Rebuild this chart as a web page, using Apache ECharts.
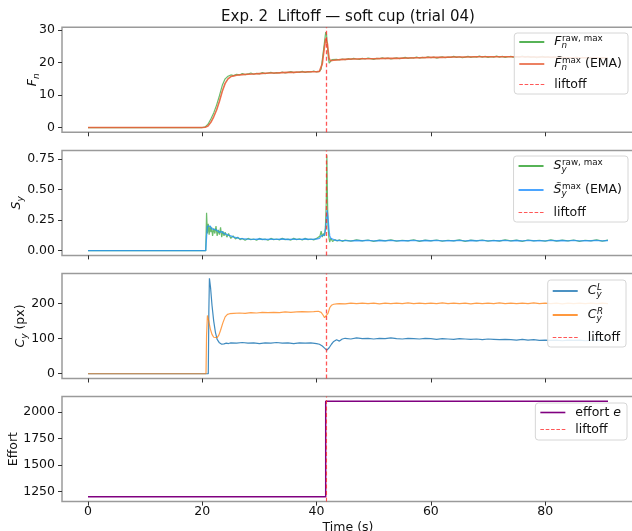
<!DOCTYPE html>
<html>
<head>
<meta charset="utf-8">
<script src="https://cdn.jsdelivr.net/npm/echarts@6/dist/echarts.min.js"></script>
<style>
  html, body { margin: 0; padding: 0; background: #fff; }
  #chart { width: 632px; height: 531px; }
</style>
</head>
<body>
<div id="chart"></div>
<script>
// tick positions
const xTicks = [0, 20, 40, 60, 80];
const fnTicks = [0, 10, 20, 30];
const syTicks = [0, 0.25, 0.5, 0.75];
const cyTicks = [0, 100, 200];
const effortTicks = [1250, 1500, 1750, 2000];

const liftoffT = 41.7;

// [time (s), value]
const fnRaw = [[0,0],[20,0],[20.5,0.2],[21,1.0],[21.5,2.6],[22,4.5],[22.5,6.9],[23,9.8],[23.5,13.0],[24,15.0],[24.5,15.8],[25,16.2],[25.5,16.0],[26,16.4],[26.5,16.2],[27,16.6],[27.5,16.3],[28,16.5],[28.5,16.8],[29,16.4],[29.5,16.7],[30,16.5],[30.5,16.9],[31,16.6],[31.5,16.8],[32,17.0],[32.5,16.7],[33,16.9],[33.5,16.8],[34,17.1],[34.5,16.8],[35,17.0],[35.5,17.2],[36,16.9],[36.5,17.1],[37,17.0],[37.5,17.3],[38,17.0],[38.5,17.2],[39,17.1],[39.5,17.4],[40,17.1],[40.5,17.3],[40.8,18.0],[41.0,20.8],[41.2,23.6],[41.4,26.5],[41.6,29.4],[41.75,28.6],[41.9,25.0],[42.05,21.8],[42.2,19.8],[42.4,20.4],[42.7,20.9],[43,20.6],[43.5,21.0],[44,20.8],[44.5,21.1],[45,20.9],[45.5,21.2],[46,21.0],[46.5,21.3],[47,21.1],[47.5,21.0],[48,21.3],[48.5,21.1],[49,21.4],[49.5,21.2],[50,21.0],[50.5,21.3],[51,21.2],[51.5,21.5],[52,21.2],[52.5,21.4],[53,21.1],[53.5,21.3],[54,21.5],[54.5,21.2],[55,21.4],[55.5,21.6],[56,21.3],[56.5,21.5],[57,21.4],[57.5,21.7],[58,21.4],[58.5,21.6],[59,21.5],[59.5,21.8],[60,21.5],[60.5,21.7],[61,21.4],[61.5,21.6],[62,21.8],[62.5,21.5],[63,21.7],[63.5,21.6],[64,21.9],[64.5,21.6],[65,21.8],[65.5,21.5],[66,21.7],[66.5,21.9],[67,21.6],[67.5,21.8],[68,21.7],[68.5,22.0],[69,21.7],[69.5,21.9],[70,21.6],[70.5,21.8],[71,21.7],[71.5,22.0],[72,21.7],[72.5,21.9],[73,21.6],[73.5,21.8],[74,21.9],[74.5,21.6],[75,21.8],[75.5,21.7],[76,22.0],[76.5,21.7],[77,21.9],[77.5,21.6],[78,21.8],[78.5,21.5],[79,21.7],[79.5,21.9],[80,21.6],[80.5,21.8],[81,21.5],[81.5,21.7],[82,21.6],[82.5,21.4],[83,21.7],[83.5,21.5],[84,21.6],[84.5,21.3],[85,21.5],[85.5,21.7],[86,21.4],[86.5,21.6],[87,21.5],[87.5,21.3],[88,21.6],[88.5,21.4],[89,21.5],[89.5,21.3],[90,21.5],[90.5,21.4],[91,21.5]];

const fnEma = [[0,0],[20,0],[20.5,0.1],[21,0.5],[21.5,1.6],[22,3.3],[22.5,5.4],[23,8.1],[23.5,11.2],[24,13.6],[24.5,15.0],[25,15.7],[25.5,15.9],[26,16.1],[27,16.3],[28,16.4],[29,16.5],[30,16.6],[31,16.7],[32,16.8],[33,16.8],[34,16.9],[35,17.0],[36,17.0],[37,17.1],[38,17.1],[39,17.2],[40,17.2],[40.5,17.3],[40.8,17.7],[41.0,19.6],[41.2,22.4],[41.4,25.0],[41.6,27.4],[41.75,27.6],[41.9,25.8],[42.05,23.3],[42.2,21.3],[42.4,20.6],[42.7,20.7],[43,20.7],[44,20.9],[45,21.0],[46,21.1],[47,21.1],[48,21.2],[50,21.2],[52,21.3],[54,21.3],[56,21.4],[58,21.5],[60,21.6],[62,21.6],[64,21.7],[66,21.7],[68,21.8],[70,21.8],[72,21.8],[74,21.8],[76,21.8],[78,21.7],[80,21.7],[82,21.6],[84,21.5],[86,21.5],[88,21.5],[90,21.4],[91,21.4]];

const syRaw = [[0,0],[20.6,0],[20.75,0.31],[20.9,0.14],[21.05,0.22],[21.2,0.13],[21.35,0.2],[21.5,0.15],[21.65,0.19],[21.8,0.12],[22.0,0.18],[22.2,0.14],[22.4,0.2],[22.6,0.12],[22.8,0.17],[23.0,0.13],[23.2,0.19],[23.4,0.11],[23.6,0.16],[23.8,0.12],[24.0,0.15],[24.3,0.11],[24.6,0.14],[25.0,0.1],[25.4,0.12],[25.8,0.095],[26.2,0.11],[26.6,0.09],[27,0.1],[27.5,0.085],[28,0.1],[28.5,0.09],[29,0.095],[29.5,0.085],[30,0.1],[30.5,0.09],[31,0.095],[31.5,0.085],[32,0.1],[32.5,0.09],[33,0.095],[33.5,0.088],[34,0.1],[34.5,0.09],[35,0.094],[35.5,0.086],[36,0.1],[36.5,0.09],[37,0.096],[37.5,0.087],[38,0.1],[38.5,0.09],[39,0.095],[39.5,0.088],[40,0.1],[40.3,0.095],[40.6,0.12],[40.8,0.16],[41.0,0.11],[41.2,0.14],[41.4,0.12],[41.55,0.2],[41.7,0.4],[41.8,0.78],[41.9,0.45],[42.0,0.2],[42.15,0.11],[42.3,0.07],[42.5,0.1],[42.8,0.075],[43.2,0.09],[43.6,0.078],[44,0.088],[44.5,0.076],[45,0.086],[46,0.077],[47,0.088],[48,0.079],[49,0.087],[50,0.076],[51,0.086],[52,0.08],[53,0.088],[54,0.077],[55,0.085],[56,0.079],[57,0.089],[58,0.076],[59,0.086],[60,0.08],[61,0.087],[62,0.077],[63,0.085],[64,0.079],[65,0.088],[66,0.076],[67,0.086],[68,0.08],[69,0.087],[70,0.078],[71,0.085],[72,0.077],[73,0.088],[74,0.079],[75,0.086],[76,0.076],[77,0.087],[78,0.08],[79,0.085],[80,0.078],[81,0.088],[82,0.077],[83,0.086],[84,0.079],[85,0.087],[86,0.076],[87,0.085],[88,0.08],[89,0.088],[90,0.078],[91,0.086]];

const syEma = [[0,0],[20.6,0],[20.75,0.12],[20.9,0.2],[21.05,0.21],[21.2,0.19],[21.4,0.2],[21.6,0.18],[21.8,0.17],[22.0,0.175],[22.3,0.16],[22.6,0.165],[23.0,0.15],[23.4,0.155],[23.8,0.14],[24.2,0.135],[24.6,0.125],[25,0.12],[25.5,0.11],[26,0.105],[26.5,0.1],[27,0.097],[28,0.094],[29,0.092],[30,0.095],[31,0.091],[32,0.094],[33,0.092],[34,0.095],[35,0.091],[36,0.094],[37,0.092],[38,0.095],[39,0.092],[40,0.095],[40.5,0.1],[40.8,0.12],[41.1,0.125],[41.4,0.13],[41.6,0.18],[41.75,0.26],[41.85,0.33],[42.0,0.27],[42.15,0.18],[42.3,0.12],[42.5,0.1],[42.8,0.09],[43.2,0.085],[44,0.083],[45,0.082],[46,0.08],[47,0.083],[48,0.081],[49,0.084],[50,0.08],[51,0.083],[52,0.081],[53,0.084],[54,0.08],[55,0.082],[56,0.081],[57,0.084],[58,0.08],[59,0.083],[60,0.081],[61,0.084],[62,0.08],[63,0.082],[64,0.081],[65,0.084],[66,0.08],[67,0.083],[68,0.081],[69,0.084],[70,0.08],[71,0.082],[72,0.081],[73,0.084],[74,0.08],[75,0.083],[76,0.08],[77,0.084],[78,0.081],[79,0.082],[80,0.08],[81,0.084],[82,0.081],[83,0.083],[84,0.08],[85,0.084],[86,0.08],[87,0.082],[88,0.081],[89,0.084],[90,0.08],[91,0.083]];

const cyL = [[0,0],[21.05,0],[21.15,180],[21.25,272],[21.45,245],[21.7,195],[22.0,150],[22.3,118],[22.6,98],[23.0,88],[23.4,84],[23.8,85],[24.2,87],[24.6,86],[25,88],[26,87],[27,89],[28,87],[29,88],[30,86],[31,88],[32,87],[33,89],[34,87],[35,88],[36,86],[37,88],[38,87],[39,88],[40,86],[40.5,84],[41,79],[41.4,73],[41.8,67],[42.2,74],[42.6,84],[43.0,92],[43.5,97],[44.0,93],[44.5,99],[45,101],[46,99],[47,102],[48,100],[49,101],[50,99],[51,101],[52,100],[53,102],[54,100],[55,99],[56,101],[57,100],[58,99],[59,101],[60,100],[61,98],[62,100],[63,99],[64,98],[65,100],[66,99],[67,98],[68,99],[69,97],[70,99],[71,98],[72,97],[73,98],[74,97],[75,96],[76,98],[77,96],[78,97],[79,95],[80,96],[81,95],[82,96],[83,94],[84,96],[85,95],[86,96],[87,94],[88,95],[89,96],[90,95],[91,95]];

const cyR = [[0,0],[20.65,0],[20.75,110],[20.9,166],[21.1,152],[21.4,128],[21.7,112],[22.0,104],[22.3,101],[22.6,103],[22.9,110],[23.2,124],[23.6,145],[24.0,162],[24.4,169],[24.8,171],[25.5,172],[26.5,173],[27.5,172],[28.5,174],[29.5,173],[30.5,175],[31.5,174],[32.5,175],[33.5,174],[34.5,176],[35.5,175],[36.5,176],[37.5,177],[38.5,176],[39.5,177],[40.3,178],[40.8,175],[41.1,168],[41.4,160],[41.7,156],[42.0,172],[42.3,188],[42.6,195],[43.0,198],[43.5,199],[44,200],[45,199],[46,201],[47,200],[48,201],[49,200],[50,201],[51,199],[52,201],[53,200],[54,201],[55,200],[56,202],[57,200],[58,201],[59,200],[60,201],[61,200],[62,202],[63,200],[64,201],[65,200],[66,201],[67,199],[68,201],[69,200],[70,201],[71,200],[72,202],[73,200],[74,201],[75,200],[76,201],[77,200],[78,202],[79,200],[80,201],[81,200],[82,201],[83,199],[84,201],[85,200],[86,201],[87,200],[88,201],[89,200],[90,201],[91,200]];

const effort = [[0,1200],[41.6,1200],[41.6,2100],[91,2100]];

const FONT = 'DejaVu Sans';
const chart = echarts.init(document.getElementById('chart'), null, { renderer: 'canvas' });

const panelTops = [27.3, 150.4, 273.5, 396.6];
const panelH = 105;
const yRanges = [[-1.47, 30.87], [-0.039, 0.819], [-13.6, 285.6], [1155, 2145]];
const yTickSets = [fnTicks, syTicks, cyTicks, effortTicks];
const yNames = ['{i|F}{s|n}', '{i|S}{s|y}', '{i|C}{s|y}{t| (px)}', '{t|Effort}'];
const yNameGaps = [21, 37, 33, 40];

// legend line samples: solid bar and dashed bar
const SOLID_ICON = 'rect';
const DASH_ICON = 'path://M0,0h3.6v1h-3.6zM5.35,0h3.6v1h-3.6zM10.7,0h3.6v1h-3.6zM16.05,0h3.6v1h-3.6zM21.4,0h3.6v1h-3.6z';

const nameRich = {
    i: { fontFamily: FONT, fontStyle: 'italic', fontSize: 12.5, lineHeight: 16, color: '#111' },
    s: { fontFamily: FONT, fontStyle: 'italic', fontSize: 9, lineHeight: 9, verticalAlign: 'bottom', color: '#111' },
    t: { fontFamily: FONT, fontSize: 12.5, lineHeight: 16, color: '#111' }
};

// sup sits ~2.5px above the main glyph centre, sub ~5px below it; sub has ~no width so sup stacks over it
const legendRich = {
    g: { width: 5, fontSize: 12.5, lineHeight: 16 },
    it: { fontFamily: FONT, fontStyle: 'italic', fontSize: 12.5, lineHeight: 16, color: '#111' },
    t: { fontFamily: FONT, fontSize: 12.5, lineHeight: 16, color: '#111' },
    sup: { fontFamily: FONT, fontSize: 8.75, lineHeight: 11, verticalAlign: 'top', color: '#111' },
    supi: { fontFamily: FONT, fontStyle: 'italic', fontSize: 8.75, lineHeight: 11, verticalAlign: 'top', color: '#111' },
    sub: { fontFamily: FONT, fontStyle: 'italic', fontSize: 8.75, lineHeight: 5.6, verticalAlign: 'bottom', width: 0.5, color: '#111' }
};

const legendLabels = {
    fnRaw: '{g| }{it|F}{sub|n}{sup|raw, max}',
    fnEma: '{g| }{it|F\u0303}{sub|n}{sup|max}{t| (EMA)}',
    syRaw: '{g| }{it|S}{sub|y}{sup|raw, max}',
    syEma: '{g| }{it|S\u0303}{sub|y}{sup|max}{t| (EMA)}',
    cyL: '{g| }{it|C}{sub|y}{supi|L}',
    cyR: '{g| }{it|C}{sub|y}{supi|R}',
    effort: '{g| }{t|effort }{it|e}',
    lift1: '{g| }{t|liftoff}', lift2: '{g| }{t|liftoff}', lift3: '{g| }{t|liftoff}', lift4: '{g| }{t|liftoff}'
};

const grids = panelTops.map(top => ({
    left: 62, width: 572, top: top, height: panelH, outerBoundsMode: 'none',
    show: true, borderColor: '#9a9a9a', borderWidth: 1.5, backgroundColor: 'transparent'
}));

const xAxes = panelTops.map((_, i) => ({
    type: 'value', gridIndex: i, min: -4.55, max: 95.55,
    axisLine: { show: false, onZero: false },
    axisTick: { show: true, customValues: xTicks, length: 4, lineStyle: { color: '#333' } },
    axisLabel: { show: i === 3, customValues: xTicks, fontSize: 12.5, fontFamily: FONT, color: '#111', margin: 4 },
    splitLine: { show: false },
    name: i === 3 ? 'Time (s)' : '',
    nameLocation: 'middle', nameGap: 20, nameMoveOverlap: false,
    nameTextStyle: { fontSize: 12.5, fontFamily: FONT, color: '#111' }
}));

const yAxes = panelTops.map((_, i) => ({
    type: 'value', gridIndex: i, min: yRanges[i][0], max: yRanges[i][1],
    axisLine: { show: false, onZero: false },
    axisTick: { show: true, customValues: yTickSets[i], length: 4, lineStyle: { color: '#333' } },
    axisLabel: {
        customValues: yTickSets[i], fontSize: 12.5, fontFamily: FONT, color: '#111', margin: 7,
        formatter: v => i === 1 ? v.toFixed(2) : String(v)
    },
    splitLine: { show: false },
    name: yNames[i], nameLocation: 'middle', nameRotate: 90, nameGap: yNameGaps[i], nameMoveOverlap: false,
    nameTextStyle: { rich: nameRich }
}));

const LIFT_COLOR = 'rgba(255,45,45,0.8)';

function liftSeries(name, idx, width) {
    return {
        name: name, type: 'line', xAxisIndex: idx, yAxisIndex: idx, data: [],
        symbol: 'none', color: LIFT_COLOR,
        lineStyle: { type: [4, 2.5], width: width, color: LIFT_COLOR },
        markLine: {
            silent: true, symbol: ['none', 'none'], label: { show: false },
            lineStyle: { type: [4, 2.5], width: width, color: LIFT_COLOR },
            data: [{ xAxis: liftoffT }]
        },
        z: 5
    };
}

function lineSeries(name, idx, data, color, width, opacity) {
    return {
        name: name, type: 'line', xAxisIndex: idx, yAxisIndex: idx, data: data,
        symbol: 'none', showSymbol: false, color: color,
        lineStyle: { width: width, color: color, opacity: opacity }
    };
}

const series = [
    lineSeries('fnRaw', 0, fnRaw, '#2ca02c', 1.2, 0.7),
    lineSeries('fnEma', 0, fnEma, '#e8613a', 1.6, 0.9),
    liftSeries('lift1', 0, 1.3),
    lineSeries('syRaw', 1, syRaw, '#2ca02c', 1.2, 0.7),
    lineSeries('syEma', 1, syEma, '#1e8fff', 1.4, 0.75),
    liftSeries('lift2', 1, 1.3),
    lineSeries('cyL', 2, cyL, '#1f77b4', 1.2, 0.85),
    lineSeries('cyR', 2, cyR, '#ff7f0e', 1.2, 0.75),
    liftSeries('lift3', 2, 1.3),
    lineSeries('effort', 3, effort, '#800080', 1.5, 1),
    liftSeries('lift4', 3, 1.1)
];

const legendBase = {
    orient: 'vertical', right: 4, itemWidth: 25, itemHeight: 1.6, itemGap: 6,
    backgroundColor: 'rgba(255,255,255,0.85)', borderColor: '#d6d6d6', borderWidth: 1,
    borderRadius: 3, padding: [1, 6, 3, 5],
    formatter: name => legendLabels[name],
    textStyle: { fontFamily: FONT, fontSize: 12.5, color: '#111', rich: legendRich }
};

function legendData(names) {
    return names.map(n => ({ name: n, icon: n.indexOf('lift') === 0 ? DASH_ICON : SOLID_ICON }));
}

const legends = [
    Object.assign({}, legendBase, { top: 33, data: legendData(['fnRaw', 'fnEma', 'lift1']) }),
    Object.assign({}, legendBase, { top: 156, itemGap: 8, padding: [2, 6, 3, 5], data: legendData(['syRaw', 'syEma', 'lift2']) }),
    Object.assign({}, legendBase, { top: 280, right: 6, itemGap: 8, padding: [3, 6, 3, 5], data: legendData(['cyL', 'cyR', 'lift3']) }),
    Object.assign({}, legendBase, { top: 403, right: 5, itemGap: 4, padding: [3, 6, 4, 5], data: legendData(['effort', 'lift4']) })
];

chart.setOption({
    animation: false,
    backgroundColor: '#fff',
    textStyle: { fontFamily: FONT },
    graphic: [{
        type: 'text', x: 348, y: 17,
        style: { text: 'Exp. 2  Liftoff \u2014 soft cup (trial 04)', font: '15px "DejaVu Sans"', fill: '#111', align: 'center', verticalAlign: 'middle' }
    }],
    grid: grids,
    xAxis: xAxes,
    yAxis: yAxes,
    legend: legends,
    series: series
});
</script>
</body>
</html>
